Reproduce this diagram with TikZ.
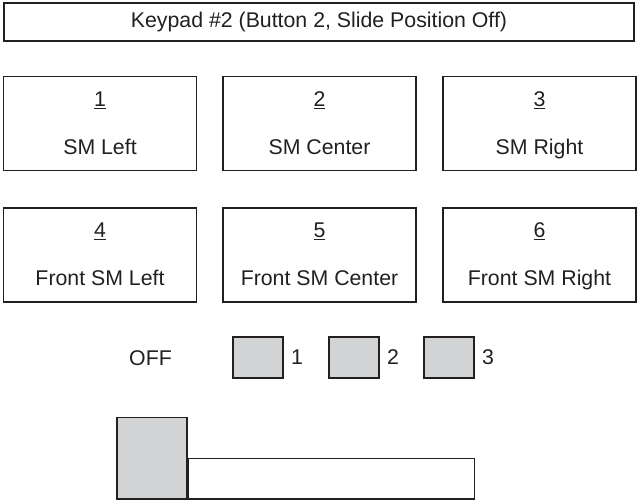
\documentclass[tikz,border=0pt]{standalone}
\usepackage{fontspec}
\setmainfont{Liberation Sans}
\usetikzlibrary{positioning}
\definecolor{edge}{HTML}{231F20}
\definecolor{keygray}{HTML}{D1D3D4}
\tikzset{
  frame/.style={draw=edge, line width=1.8pt, inner sep=0pt},
  titlebox/.style={frame, minimum width=630pt, minimum height=38pt},
  keybox/.style={frame, minimum width=193pt, minimum height=94pt},
  swatch/.style={frame, fill=keygray, minimum width=50pt, minimum height=41pt},
  knob/.style={frame, fill=keygray, minimum width=69.5pt, minimum height=81.5pt},
  bar/.style={frame, fill=white, minimum width=286pt, minimum height=40.5pt},
  tag/.style={inner sep=1pt}
}
\begin{document}
\begin{tikzpicture}[x=1pt,y=-1pt,font=\fontsize{21.3}{25}\selectfont,text=edge]
  \useasboundingbox (0,0) rectangle (638,500);
  \node[titlebox] (title) at (319,22) {Keypad \#2 (Button 2, Slide Position Off)};
  % keypad buttons
  \foreach \n/\x/\y/\name in {1/100/123.5/SM Left,2/319.5/123.5/SM Center,3/539.5/123.5/SM Right,
      4/100/255/Front SM Left,5/319.5/255/Front SM Center,6/539.5/255/Front SM Right} {
    \node[keybox] (k\n) at (\x,\y) {};
    \node[anchor=base] (n\n) at ([yshift=17pt]k\n.center) {\underline{\n}};
    \node[anchor=base] (t\n) at ([yshift=-31pt]k\n.center) {\name};
  }
  % legend
  \node (off) at (150.5,358) {OFF};
  \node[swatch] (s1) at (258,357.5) {};
  \node[swatch] (s2) at (354,357.5) {};
  \node[swatch] (s3) at (449,357.5) {};
  \node[tag, right=6pt of s1] (l1) {1};
  \node[tag, right=6pt of s2] (l2) {2};
  \node[tag, right=6pt of s3] (l3) {3};
  % slider
  \node[knob] (knob) at (152,458.2) {};
  \node[bar, anchor=south west] (bar) at (knob.south east) {};
\end{tikzpicture}
\end{document}
